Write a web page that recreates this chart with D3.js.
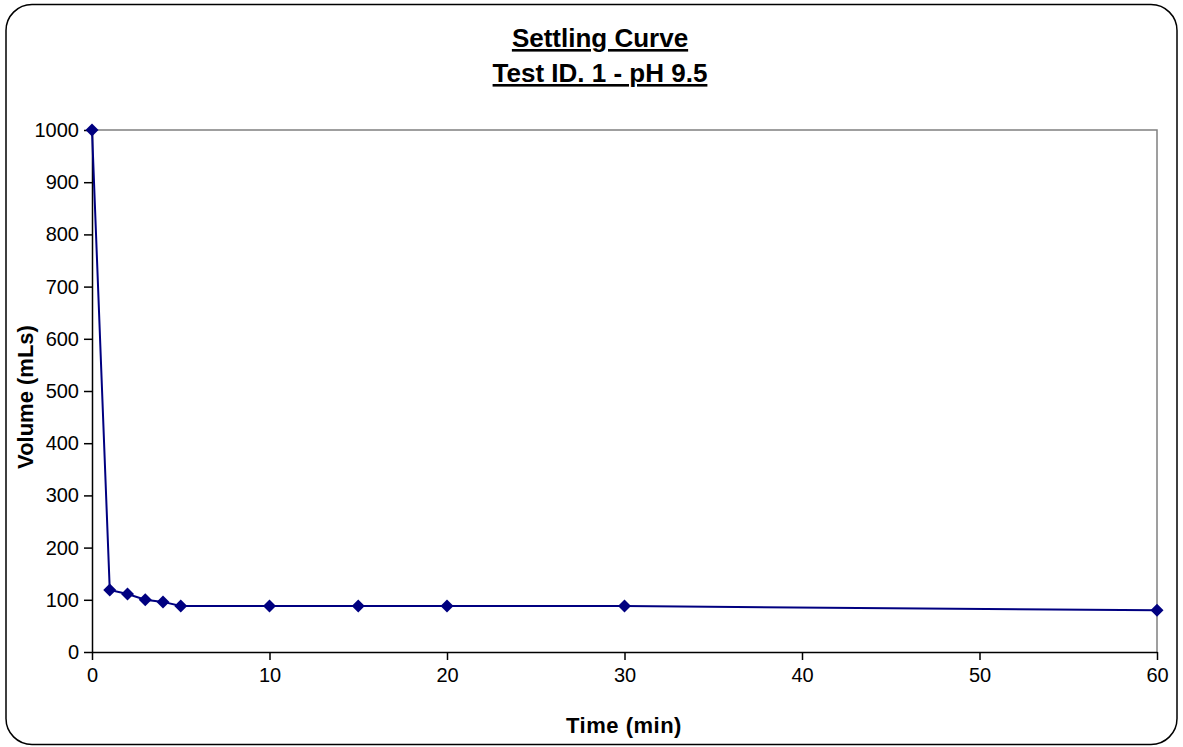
<!DOCTYPE html>
<html>
<head>
<meta charset="utf-8">
<script src="https://cdn.jsdelivr.net/npm/d3@7"></script>
<style>
  body { margin: 0; background: #fff; }
  svg { display: block; font-family: "Liberation Sans", Arial, sans-serif; }
</style>
</head>
<body>
<svg id="chart" width="1183" height="747"></svg>
<script>
// settling test readings
const times = [0, 1, 2, 3, 4, 5, 10, 15, 20, 30, 60];
const volumes = [1000, 119, 111, 100, 96, 88, 88, 88, 88, 88, 80];
const xTicks = [0, 10, 20, 30, 40, 50, 60];
const yTicks = [0, 100, 200, 300, 400, 500, 600, 700, 800, 900, 1000];
const titleLines = ["Settling Curve", "Test ID. 1 - pH 9.5"];

const svg = d3.select("#chart");
const plot = { left: 92, right: 1157, top: 130, bottom: 652 };

// outer rounded frame
svg.append("rect")
  .attr("x", 6).attr("y", 4.5)
  .attr("width", 1171).attr("height", 740)
  .attr("rx", 26).attr("ry", 26)
  .attr("fill", "#fff").attr("stroke", "#000").attr("stroke-width", 1.5);

const x = d3.scaleLinear().domain([0, 60]).range([plot.left, plot.right]);
const y = d3.scaleLinear().domain([0, 1000]).range([plot.bottom, plot.top]);

// top and right edge of plot area
svg.append("path")
  .attr("d", `M${plot.left},${plot.top}H${plot.right}V${plot.bottom}`)
  .attr("fill", "none").attr("stroke", "#808080").attr("stroke-width", 1.5);

// axes
const xAxis = svg.append("g")
  .attr("transform", `translate(0,${plot.bottom})`)
  .call(d3.axisBottom(x).tickValues(xTicks).tickFormat(d3.format("d"))
    .tickSize(8).tickPadding(4).tickSizeOuter(0));
const yAxis = svg.append("g")
  .attr("transform", `translate(${plot.left},0)`)
  .call(d3.axisLeft(y).tickValues(yTicks).tickFormat(d3.format("d"))
    .tickSize(8).tickPadding(5).tickSizeOuter(0));

[xAxis, yAxis].forEach(g => {
  g.select(".domain").attr("stroke", "#000").attr("stroke-width", 1.5);
  g.selectAll(".tick line").attr("stroke", "#000").attr("stroke-width", 1.5);
  g.selectAll(".tick text")
    .attr("fill", "#000")
    .style("font-size", "20px")
    .style("font-family", "'Liberation Sans', Arial, sans-serif");
});
xAxis.selectAll(".tick text").attr("dy", "0.9em");

// series line + diamond markers
const pts = times.map((t, i) => [t, volumes[i]]);
svg.append("path")
  .datum(pts)
  .attr("fill", "none")
  .attr("stroke", "#000080")
  .attr("stroke-width", 2)
  .attr("d", d3.line().x(d => x(d[0])).y(d => y(d[1])));

svg.selectAll(".pt")
  .data(pts)
  .enter()
  .append("path")
  .attr("class", "pt")
  .attr("transform", d => `translate(${x(d[0])},${y(d[1])})`)
  .attr("d", "M0,-6.5L6.5,0L0,6.5L-6.5,0Z")
  .attr("fill", "#000080");

// title
svg.selectAll(".title")
  .data(titleLines)
  .enter()
  .append("text")
  .attr("class", "title")
  .attr("x", 600)
  .attr("y", (d, i) => 47 + i * 35)
  .attr("text-anchor", "middle")
  .style("font-size", "26px")
  .style("font-weight", "bold")
  .style("text-decoration", "underline")
  .text(d => d);

// axis titles
svg.append("text")
  .attr("x", 624)
  .attr("y", 733)
  .attr("text-anchor", "middle")
  .style("font-size", "22px")
  .style("font-weight", "bold")
  .style("letter-spacing", "0.5px")
  .text("Time (min)");

svg.append("text")
  .attr("transform", `translate(33,397) rotate(-90)`)
  .attr("text-anchor", "middle")
  .style("font-size", "22px")
  .style("font-weight", "bold")
  .text("Volume (mLs)");
</script>
</body>
</html>
